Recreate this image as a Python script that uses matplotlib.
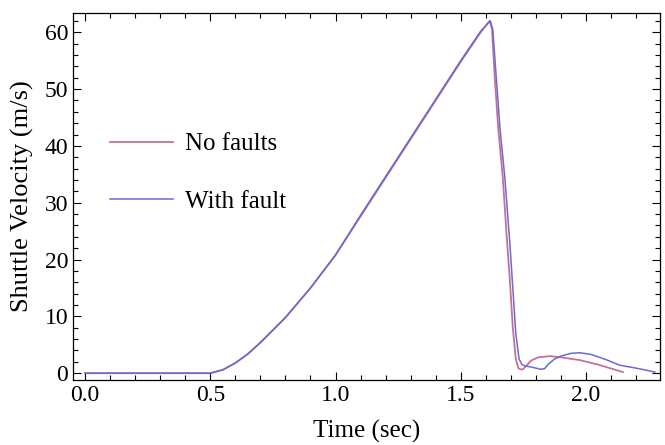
import matplotlib
matplotlib.use("Agg")
from matplotlib import pyplot as plt
from matplotlib.ticker import MultipleLocator

# time (sec) and velocity (m/s)
t_nofault = [0.0, 0.5, 0.55, 0.6, 0.65, 0.7, 0.8, 0.9, 1.0, 1.1, 1.2, 1.3, 1.4, 1.5, 1.58,
             1.608, 1.616, 1.625, 1.636, 1.65, 1.668, 1.683, 1.696, 1.708, 1.72, 1.73,
             1.738, 1.747, 1.76, 1.78, 1.81, 1.856, 1.9, 1.976, 2.05, 2.148]
v_nofault = [0.0, 0.0, 0.6, 1.8, 3.4, 5.4, 9.8, 15.0, 20.8, 27.6, 34.4, 41.2, 48.0, 54.8, 60.0,
             61.6, 62.0, 60.5, 52.0, 43.0, 34.5, 24.5, 16.5, 8.0, 2.5, 0.9,
             0.7, 0.65, 1.2, 2.2, 2.8, 3.0, 2.8, 2.3, 1.5, 0.2]

t_fault = [0.0, 0.5, 0.55, 0.6, 0.65, 0.7, 0.8, 0.9, 1.0, 1.1, 1.2, 1.3, 1.4, 1.5, 1.58,
           1.61, 1.618, 1.628, 1.642, 1.657, 1.676, 1.696, 1.708, 1.72, 1.733, 1.745,
           1.756, 1.78, 1.80, 1.82, 1.835, 1.85, 1.875, 1.9, 1.94, 1.976, 2.02, 2.08,
           2.136, 2.2, 2.276]
v_fault = [0.0, 0.0, 0.6, 1.8, 3.4, 5.4, 9.8, 15.0, 20.8, 27.8, 34.6, 41.4, 48.2, 55.0, 60.2,
           61.6, 62.0, 60.5, 52.0, 43.0, 34.5, 23.0, 15.0, 7.0, 2.5, 1.5,
           1.3, 1.1, 0.9, 0.7, 0.8, 1.6, 2.5, 3.0, 3.5, 3.6, 3.3, 2.4,
           1.4, 0.9, 0.2]

plt.rcParams["font.family"] = ["Liberation Serif", "DejaVu Serif"]

fig = plt.figure(figsize=(6.65, 4.45), dpi=100)
ax = fig.add_axes([0.11, 0.146, 0.8825, 0.825])

ax.plot(t_nofault, v_nofault, color="#c4709a", lw=1.3, label="No faults")
ax.plot(t_fault, v_fault, color="#6a6ad0", lw=1.1, label="With fault")

ax.set_xlim(-0.048, 2.296)
ax.set_ylim(-1.2, 63.4)
ax.xaxis.set_major_locator(MultipleLocator(0.5))
ax.xaxis.set_minor_locator(MultipleLocator(0.1))
ax.yaxis.set_major_locator(MultipleLocator(10))
ax.yaxis.set_minor_locator(MultipleLocator(2))
ax.xaxis.set_major_formatter(plt.FormatStrFormatter("%.1f"))
ax.tick_params(which="both", direction="in", top=True, right=True, labelsize=17, width=0.8)
ax.tick_params(which="major", length=6)
ax.tick_params(which="minor", length=3.5)
for s in ax.spines.values():
    s.set_linewidth(0.9)

ax.set_xlabel("Time (sec)", fontsize=18, labelpad=10)
ax.set_ylabel("Shuttle Velocity (m/s)", fontsize=19, labelpad=8)

ax.legend(loc="center left", bbox_to_anchor=(0.063, 0.564), frameon=False, fontsize=18,
          handlelength=2.5, handletextpad=0.5, labelspacing=1.4,
          borderpad=0, borderaxespad=0)

fig.savefig("out.png", dpi=100)
